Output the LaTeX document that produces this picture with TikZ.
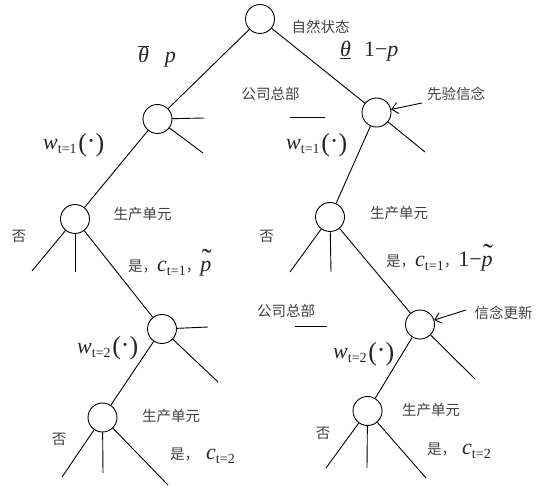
\documentclass[tikz,border=0pt]{standalone}
\usepackage{fontspec}
\usetikzlibrary{arrows.meta}
\newfontfamily\cjk{Noto Sans CJK SC}
\newfontfamily\tms{Liberation Serif}
\newcommand{\zhs}[1]{{\cjk\fontsize{14.5}{17}\selectfont\color{black!75}#1}}
\newcommand{\mi}[1]{{\tms\itshape\fontsize{22}{24}\selectfont #1}}
\newcommand{\mr}[1]{{\tms\fontsize{22}{24}\selectfont #1}}
\newcommand{\msub}[1]{\raisebox{-4pt}{\tms\fontsize{14}{14}\selectfont #1}}
\newcommand{\prn}{{\tms\fontsize{26}{26}\selectfont\raisebox{-1.5pt}{(}·\raisebox{-1.5pt}{)}}}
\newcommand{\tp}{\rlap{\hspace{1.5pt}\raisebox{2pt}{\tms\fontsize{30}{30}\selectfont ˜}}\mi{p}}
\begin{document}
\begin{tikzpicture}[x=1pt,y=-1pt,
  dn/.style={circle,draw,line width=0.9pt,minimum size=29pt,inner sep=0pt},
  br/.style={line width=0.9pt},
  zh/.style={font=\cjk\fontsize{14.5}{17}\selectfont,text=black!75,inner sep=0pt},
  mth/.style={inner sep=0pt,text=black!85,anchor=base west},
  ptr/.style={-{Straight Barb[length=6pt,width=11pt]},line width=0.9pt}]
\useasboundingbox (0,0) rectangle (536,489);
% decision nodes
\node[dn] (root) at (260,19) {};
\node[dn] (L1L) at (157.5,119) {};
\node[dn] (L1R) at (376.5,112.5) {};
\node[dn] (L2L) at (75,219) {};
\node[dn] (L2R) at (330,217) {};
\node[dn] (L3L) at (162,329) {};
\node[dn] (L3R) at (420,324.5) {};
\node[dn] (L4L) at (102.5,417.5) {};
\node[dn] (L4R) at (367.5,411) {};
% leaf ends
\coordinate (a1) at (204,118);
\coordinate (a2) at (203,153);
\coordinate (b1) at (425,152);
\coordinate (c1) at (32,271);
\coordinate (c2) at (75,272);
\coordinate (d1) at (290,272);
\coordinate (d2) at (331,272);
\coordinate (e1) at (208,327);
\coordinate (e2) at (218,382);
\coordinate (f1) at (475,379);
\coordinate (g1) at (62,477);
\coordinate (g2) at (103,473);
\coordinate (g3) at (168,485);
\coordinate (h1) at (326,468);
\coordinate (h2) at (367,468);
\coordinate (h3) at (426,478);
% tree edges
\draw[br] (root) -- (L1L);
\draw[br] (root) -- (L1R);
\draw[br] (L1L) -- (L2L);
\draw[br] (L1R) -- (L2R);
\draw[br] (L2L) -- (L3L);
\draw[br] (L2R) -- (L3R);
\draw[br] (L3L) -- (L4L);
\draw[br] (L3R) -- (L4R);
% leaves
\draw[br] (L1L) -- (a1);
\draw[br] (L1L) -- (a2);
\draw[br] (L1R) -- (b1);
\draw[br] (L2L) -- (c1);
\draw[br] (L2L) -- (c2);
\draw[br] (L2R) -- (d1);
\draw[br] (L2R) -- (d2);
\draw[br] (L3L) -- (e1);
\draw[br] (L3L) -- (e2);
\draw[br] (L3R) -- (f1);
\draw[br] (L4L) -- (g1);
\draw[br] (L4L) -- (g2);
\draw[br] (L4L) -- (g3);
\draw[br] (L4R) -- (h1);
\draw[br] (L4R) -- (h2);
\draw[br] (L4R) -- (h3);
% short bars
\draw[br] (290,117) -- (325,117);
\draw[br] (295,326) -- (327,326);
% Chinese labels
\node[zh] (t1) at (320.5,27) {自然状态};
\node[zh] (t2) at (270.5,94) {公司总部};
\node[zh] (t3) at (456,94) {先验信念};
\node[zh] (t4) at (142.5,214) {生产单元};
\node[zh] (t5) at (19,236) {否};
\node[zh] (t6) at (399,213) {生产单元};
\node[zh] (t7) at (266.5,236) {否};
\node[zh] (t8) at (286,311) {公司总部};
\node[zh] (t9) at (503.5,312.5) {信念更新};
\node[zh] (t10) at (171,416) {生产单元};
\node[zh] (t11) at (59,439) {否};
\node[zh] (t12) at (431,410.5) {生产单元};
\node[zh] (t13) at (323,433) {否};
% arrows to nodes
\coordinate (p1) at (422,103);
\coordinate (p2) at (466,310);
\draw[ptr] (p1) -- (L1R);
\draw[ptr] (p2) -- (L3R);
% math labels
\node[mth] (m1) at (138,63) {{\fontsize{22}{24}\selectfont$\overline{\hbox{\mi{θ}}}$}\hspace{16pt}\mi{p}};
\node[mth] (m2) at (340,57) {{\fontsize{22}{24}\selectfont$\underline{\hbox{\mi{θ}}}$}\hspace{13pt}\mr{1−}\mi{p}};
\node[mth] (m3) at (43,150) {\mi{w}\msub{t=1}\,\prn};
\node[mth] (m4) at (286,150) {\mi{w}\msub{t=1}\,\prn};
\node[mth] (m5) at (77,353) {\mi{w}\msub{t=2}\,\prn};
\node[mth] (m6) at (333,359) {\mi{w}\msub{t=2}\,\prn};
\node[mth] (m7) at (128,272) {\zhs{是，}\mi{c}\msub{t=1}\zhs{，}\tp};
\node[mth] (m8) at (386,267) {\zhs{是，}\mi{c}\msub{t=1}\zhs{，}\mr{1−}\tp};
\node[mth] (m9) at (170,459) {\zhs{是，}\hspace{7pt}\mi{c}\msub{t=2}};
\node[mth] (m10) at (427,454) {\zhs{是，}\hspace{6pt}\mi{c}\msub{t=2}};
\end{tikzpicture}
\end{document}
